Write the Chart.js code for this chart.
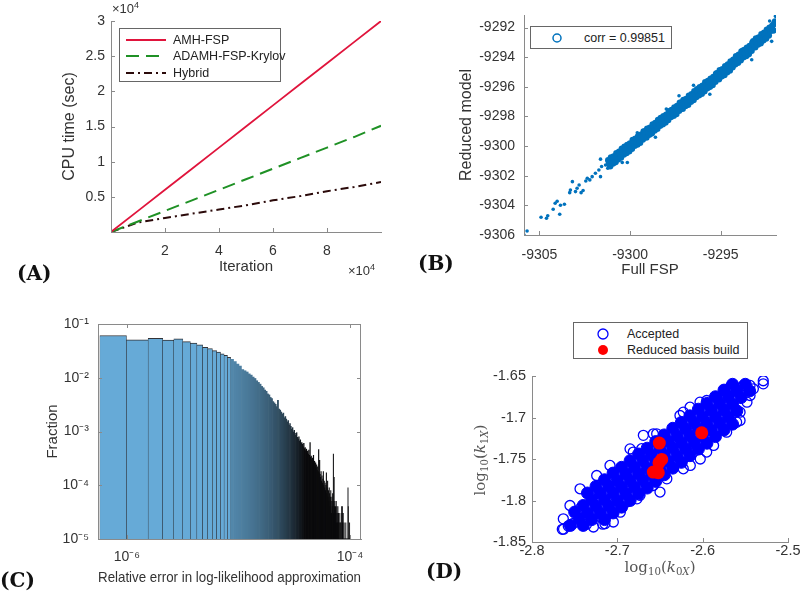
<!DOCTYPE html>
<html>
<head>
<meta charset="utf-8">
<script src="https://cdn.jsdelivr.net/npm/chart.js@4.4.1/dist/chart.umd.min.js"></script>
<style>
  body { margin: 0; background: #fff; }
  #fig { position: relative; width: 800px; height: 591px; overflow: hidden; font-family: "Liberation Sans", Arial, sans-serif; color: #333; }
  canvas { position: absolute; }
  .tag { position: absolute; font-family: "DejaVu Serif", serif; font-weight: bold; font-size: 20px; line-height: 20px; color: #111; z-index: 2; }
  .legend { position: absolute; box-sizing: border-box; border: 1px solid #666; background: #fff; font-size: 12.5px; color: #222; z-index: 2; }
  .legend span { position: absolute; line-height: 16px; white-space: nowrap; }
  .legend svg { position: absolute; left: 0; top: 0; }
  .exp { position: absolute; font-size: 13px; color: #333; z-index: 2; white-space: nowrap; }
  .exp sup { font-size: 9px; position: relative; top: -1px; vertical-align: top; }
  .mathlbl { position: absolute; font-family: "DejaVu Serif", serif; font-size: 15px; color: #555; white-space: nowrap; z-index: 2; }
  .mathlbl sub { font-size: 0.68em; vertical-align: baseline; position: relative; top: 0.3em; }
</style>
</head>
<body>
<div id="fig">
  <canvas id="cpuChart" width="400" height="290" style="left:0;top:0"></canvas>
  <canvas id="corrChart" width="400" height="290" style="left:400px;top:0"></canvas>
  <canvas id="errChart" width="400" height="301" style="left:0;top:290px"></canvas>
  <canvas id="paramChart" width="400" height="301" style="left:400px;top:290px"></canvas>

  <div class="exp" style="left:112px;top:1px">×10<sup>4</sup></div>
  <div class="exp" style="left:348px;top:263px">×10<sup>4</sup></div>

  <div class="legend" style="left:119px;top:28px;width:162px;height:54px">
    <svg width="162" height="54">
      <line x1="6" y1="11" x2="46" y2="11" stroke="#e0143c" stroke-width="2"/>
      <line x1="6" y1="27" x2="46" y2="27" stroke="#1f9125" stroke-width="2" stroke-dasharray="13 7"/>
      <line x1="6" y1="44" x2="46" y2="44" stroke="#2b0a0a" stroke-width="2" stroke-dasharray="8 4 2 4"/>
    </svg>
    <span style="left:53px;top:3px">AMH-FSP</span>
    <span style="left:53px;top:19px">ADAMH-FSP-Krylov</span>
    <span style="left:53px;top:36px">Hybrid</span>
  </div>

  <div class="legend" style="left:530px;top:26px;width:142px;height:23px">
    <svg width="142" height="23"><circle cx="26" cy="11" r="4" fill="none" stroke="#0072BD" stroke-width="1.5"/></svg>
    <span style="left:53px;top:3px">corr = 0.99851</span>
  </div>

  <div class="legend" style="left:573px;top:322px;width:175px;height:37px">
    <svg width="175" height="37">
      <circle cx="29" cy="11" r="5" fill="none" stroke="#0000ff" stroke-width="1.3"/>
      <circle cx="29" cy="27" r="5" fill="#ff0000"/>
    </svg>
    <span style="left:53px;top:3px">Accepted</span>
    <span style="left:53px;top:19px">Reduced basis build</span>
  </div>

  <div class="mathlbl" style="left:660px;top:567px;transform:translate(-50%,-50%)">log<sub>10</sub>(<i>k</i><sub>0<i>X</i></sub>)</div>
  <div class="mathlbl" style="left:480px;top:460px;transform:translate(-50%,-50%) rotate(-90deg)">log<sub>10</sub>(<i>k</i><sub>1<i>X</i></sub>)</div>

  <div class="tag" style="left:17px;top:263px">(A)</div>
  <div class="tag" style="left:418px;top:253px">(B)</div>
  <div class="tag" style="left:0px;top:570px">(C)</div>
  <div class="tag" style="left:426px;top:561px">(D)</div>
</div>

<script>
// (A) CPU time against iteration
const iterations = [0, 10000, 20000, 30000, 40000, 50000, 60000, 70000, 80000, 90000, 100000];
const cpuAmhFsp = [0, 3000, 6000, 9000, 12000, 15000, 18000, 21000, 24000, 27000, 30000];
const cpuAdamhKrylov = [0, 1500, 3000, 4500, 6000, 7500, 9000, 10500, 12000, 13500, 15100];
const cpuHybrid = [0, 1350, 2000, 2600, 3200, 3800, 4500, 5100, 5800, 6400, 7100];
const iterTicks = [20000, 40000, 60000, 80000];
const cpuTicks = [5000, 10000, 15000, 20000, 25000, 30000];

// (B) log-likelihood, full FSP vs reduced model
const fspBand = [
  -9301.2,-9301.15,-9301.1,-9301.05,-9301,-9300.95,-9300.9,-9300.85,-9300.8,-9300.75,-9300.7,-9300.65,-9300.6,-9300.55,-9300.5,-9300.45,-9300.4,-9300.35,-9300.3,-9300.25,
  -9300.2,-9300.15,-9300.1,-9300.05,-9300,-9299.95,-9299.9,-9299.85,-9299.8,-9299.75,-9299.7,-9299.65,-9299.6,-9299.55,-9299.5,-9299.45,-9299.4,-9299.35,-9299.3,-9299.25,
  -9299.2,-9299.15,-9299.1,-9299.05,-9299,-9298.95,-9298.9,-9298.85,-9298.8,-9298.75,-9298.7,-9298.65,-9298.6,-9298.55,-9298.5,-9298.45,-9298.4,-9298.35,-9298.3,-9298.25,
  -9298.2,-9298.15,-9298.1,-9298.05,-9298,-9297.95,-9297.9,-9297.85,-9297.8,-9297.75,-9297.7,-9297.65,-9297.6,-9297.55,-9297.5,-9297.45,-9297.4,-9297.35,-9297.3,-9297.25,
  -9297.2,-9297.15,-9297.1,-9297.05,-9297,-9296.95,-9296.9,-9296.85,-9296.8,-9296.75,-9296.7,-9296.65,-9296.6,-9296.55,-9296.5,-9296.45,-9296.4,-9296.35,-9296.3,-9296.25,
  -9296.2,-9296.15,-9296.1,-9296.05,-9296,-9295.95,-9295.9,-9295.85,-9295.8,-9295.75,-9295.7,-9295.65,-9295.6,-9295.55,-9295.5,-9295.45,-9295.4,-9295.35,-9295.3,-9295.25,
  -9295.2,-9295.15,-9295.1,-9295.05,-9295,-9294.95,-9294.9,-9294.85,-9294.8,-9294.75,-9294.7,-9294.65,-9294.6,-9294.55,-9294.5,-9294.45,-9294.4,-9294.35,-9294.3,-9294.25,
  -9294.2,-9294.15,-9294.1,-9294.05,-9294,-9293.95,-9293.9,-9293.85,-9293.8,-9293.75,-9293.7,-9293.65,-9293.6,-9293.55,-9293.5,-9293.45,-9293.4,-9293.35,-9293.3,-9293.25,
  -9293.2,-9293.15,-9293.1,-9293.05,-9293,-9292.95,-9292.9,-9292.85,-9292.8,-9292.75,-9292.7,-9292.65,-9292.6,-9292.55,-9292.5,-9292.45,-9292.4,-9292.35,-9292.3,-9292.25,
  -9292.2,-9292.15,-9292.1,-9292.05,-9292
];
const reducedBand = [
  -9300.96,-9301.13,-9301.36,-9300.77,-9301.04,-9301.17,-9300.7,-9300.8,-9301.08,-9300.49,-9300.72,-9300.89,-9300.38,-9300.52,-9300.77,-9300.18,-9300.45,-9300.56,-9300.05,-9300.25,
  -9300.46,-9299.92,-9300.12,-9300.35,-9299.82,-9300.01,-9300.18,-9299.59,-9299.79,-9299.98,-9299.5,-9299.74,-9299.89,-9299.34,-9299.51,-9299.77,-9299.23,-9299.39,-9299.55,-9299.01,
  -9299.02,-9299.19,-9299.42,-9298.83,-9299.1,-9299.23,-9298.76,-9298.86,-9299.14,-9298.55,-9298.78,-9298.95,-9298.44,-9298.58,-9298.83,-9298.24,-9298.51,-9298.62,-9298.11,-9298.31,
  -9298.52,-9297.98,-9298.18,-9298.41,-9297.88,-9298.07,-9298.24,-9297.65,-9297.85,-9298.04,-9297.56,-9297.8,-9297.95,-9297.4,-9297.57,-9297.83,-9297.29,-9297.45,-9297.61,-9297.07,
  -9297.08,-9297.25,-9297.48,-9296.89,-9297.16,-9297.29,-9296.82,-9296.92,-9297.2,-9296.61,-9296.84,-9297.01,-9296.5,-9296.64,-9296.89,-9296.3,-9296.57,-9296.68,-9296.17,-9296.37,
  -9296.57,-9296.03,-9296.23,-9296.46,-9295.93,-9296.12,-9296.29,-9295.7,-9295.9,-9296.09,-9295.61,-9295.85,-9296,-9295.45,-9295.62,-9295.88,-9295.34,-9295.5,-9295.66,-9295.12,
  -9295.08,-9295.25,-9295.48,-9294.89,-9295.16,-9295.29,-9294.82,-9294.92,-9295.2,-9294.61,-9294.84,-9295.01,-9294.5,-9294.64,-9294.89,-9294.3,-9294.57,-9294.68,-9294.17,-9294.37,
  -9294.48,-9293.94,-9294.14,-9294.37,-9293.84,-9294.03,-9294.2,-9293.61,-9293.81,-9294,-9293.52,-9293.76,-9293.91,-9293.36,-9293.53,-9293.79,-9293.25,-9293.41,-9293.57,-9293.03,
  -9292.93,-9293.1,-9293.33,-9292.74,-9293.01,-9293.14,-9292.67,-9292.77,-9293.05,-9292.46,-9292.69,-9292.86,-9292.35,-9292.49,-9292.74,-9292.15,-9292.42,-9292.53,-9292.02,-9292.22,
  -9292.05,-9291.88,-9292.2,-9291.75,-9291.6
];
const fspSparse = [-9305.85,-9305.68,-9304.91,-9304.61,-9304.54,-9304.24,-9304.13,-9304.02,-9303.88,-9303.84,-9303.62,-9303.33,-9303.29,-9303.18,-9303.01,-9302.92,-9302.81,-9302.7,-9302.59,-9302.44,-9302.36,-9302.22,-9302.09,-9301.91,-9301.72,-9301.63,-9301.57,-9301.35,-9301.23,-9300.15,-9300.43,-9301.63,-9291.98,-9292.3,-9292.19,-9292.6,-9293.29,-9293.84,-9294.4,-9296.5,-9295.6,-9298.6,-9297.3,-9299.6,-9298];
const reducedSparse = [-9306,-9305.73,-9304.8,-9304.87,-9304.7,-9304.26,-9303.86,-9303.72,-9304.6,-9303.99,-9303.92,-9303.14,-9302.96,-9302.4,-9303.07,-9302.84,-9302.62,-9303.14,-9303,-9302.35,-9302.17,-9302.28,-9302.06,-9301.83,-9301.61,-9300.88,-9301.38,-9301.27,-9301.49,-9301.11,-9301.11,-9302.06,-9291.24,-9291.55,-9292.93,-9292.36,-9294.17,-9293.49,-9294.39,-9295.9,-9296.5,-9299.4,-9296.6,-9299.1,-9297.5];
const fspTicks = [-9305, -9300, -9295];
const reducedTicks = [-9306, -9304, -9302, -9300, -9298, -9296, -9294, -9292];

// (C) histogram of relative error, bins of equal width
const errBinWidth = 5.32e-7;
const errFraction = [
  0.061,0.051,0.054,0.050,0.053,0.047,0.044,0.041,0.037,0.035,0.032,0.030,0.028,0.026,0.024,0.022,0.020,0.018,0.0165,0.0142,
  0.0135,0.0128,0.0118,0.0112,0.0103,0.0097,0.0088,0.0082,0.0076,0.0069,0.0065,0.0059,0.0056,0.0050,0.0048,0.0043,0.0041,0.0036,0.0034,0.0032,
  0.0029,0.0038,0.0026,0.0025,0.0023,0.0021,0.0022,0.0018,0.0019,0.0017,0.0015,0.0016,0.0013,0.0014,0.00125,0.0011,0.00118,0.00098,0.00105,0.00092,
  0.00085,0.00095,0.00078,0.00072,0.0008,0.00066,0.0007,0.0006,0.00062,0.00058,0.00052,0.0006,0.00048,0.0005,0.00044,0.00047,0.0004,0.00043,0.00038,0.00045,
  0.00036,0.00062,0.00033,0.00035,0.0003,0.00032,0.00027,0.00036,0.00025,0.00028,0.00023,0.00026,0.00021,0.00024,0.00019,0.00022,0.00018,0.00046,0.00017,0.00029,
  0.00016,0.00014,0.00018,0.00012,0.00015,0.00011,0.00013,0.00018,0.0001,0.00012,0.00009,0.00011,0.00008,0.0001,0.00017,0.00007,0.00009,0.00012,0.00006,0.00008,
  0.00005,0.00009,0.00007,0.00004,0.00006,0.00008,0.00005,0.00003,0.00006,0.00004,0.00007,0.00005,0.00038,0.00003,0.00014,0.00004,0.00005,0.00002,0.00004,0.00003,
  0.00005,0.00002,0.00004,0.00003,0.00002,0.00004,0.00002,0.00003,0,0.00002,0,0.00003,0.00002,0,0.00002,0,0,0.00004,0.00003,0.00004,
  0.00002,0,0.00003,0,0,0.00002,0,0,0,0,0,0.00002,0,0,0,0,0,0,0,0.00009,
  0.00004,0,0,0,0,0.00002,0,0,0,0
];
const errTicks = [1e-6, 1e-4];
const errTickLabels = ['10⁻⁶', '10⁻⁴'];
const fracTicks = [1e-5, 1e-4, 1e-3, 1e-2, 1e-1];
const fracTickLabels = ['10⁻⁵', '10⁻⁴', '10⁻³', '10⁻²', '10⁻¹'];

// (D) accepted samples and reduced basis build points
const coreK0 = [
  -2.755,-2.745,-2.735,-2.725,-2.715,-2.705,-2.695,-2.685,-2.675,-2.665,-2.655,-2.645,-2.635,-2.625,-2.615,-2.605,-2.595,-2.585,-2.575,-2.565,-2.555,-2.545,
  -2.75,-2.74,-2.73,-2.72,-2.71,-2.70,-2.69,-2.68,-2.67,-2.66,-2.65,-2.64,-2.63,-2.62,-2.61,-2.60,-2.59,-2.58,-2.57,-2.56,-2.55,
  -2.74,-2.73,-2.72,-2.71,-2.70,-2.69,-2.68,-2.67,-2.66,-2.65,-2.64,-2.63,-2.62,-2.61,-2.60,-2.59,-2.58,-2.57,-2.56,
  -2.735,-2.725,-2.715,-2.705,-2.695,-2.685,-2.675,-2.665,-2.655,-2.645,-2.635,-2.625,-2.615,-2.605,-2.595,-2.585,-2.575,-2.565,
  -2.715,-2.705,-2.695,-2.685,-2.675,-2.665,-2.655,-2.645,-2.635,-2.625,-2.615,-2.605,-2.595,-2.585,-2.575,-2.565
];
const coreK1 = [
  -1.830,-1.822,-1.815,-1.807,-1.799,-1.791,-1.784,-1.776,-1.768,-1.761,-1.753,-1.745,-1.737,-1.730,-1.722,-1.714,-1.707,-1.699,-1.691,-1.684,-1.676,-1.668,
  -1.814,-1.806,-1.799,-1.791,-1.783,-1.776,-1.768,-1.760,-1.752,-1.745,-1.737,-1.729,-1.722,-1.714,-1.706,-1.699,-1.691,-1.683,-1.675,-1.668,-1.660,
  -1.830,-1.823,-1.815,-1.807,-1.800,-1.792,-1.784,-1.776,-1.769,-1.761,-1.753,-1.746,-1.738,-1.730,-1.723,-1.715,-1.707,-1.699,-1.692,
  -1.791,-1.783,-1.775,-1.767,-1.760,-1.752,-1.744,-1.737,-1.729,-1.721,-1.713,-1.706,-1.698,-1.690,-1.683,-1.675,-1.667,-1.660,
  -1.823,-1.815,-1.808,-1.800,-1.792,-1.785,-1.777,-1.769,-1.761,-1.754,-1.746,-1.738,-1.731,-1.723,-1.715,-1.708
];
const edgeK0 = [-2.7645,-2.7575,-2.7516,-2.763,-2.736,-2.717,-2.6965,-2.677,-2.658,-2.65,-2.6227,-2.5953,-2.5719,-2.5602,-2.5562,-2.5445,-2.5406,-2.529,-2.5523,-2.5679,-2.5953,-2.6266,-2.6539,-2.6578,-2.6851,-2.7086,-2.7242,-2.7437,-2.7555,-2.7633,-2.529,-2.5445,-2.564,-2.5816,-2.6714,-2.7145,-2.728,-2.7047,-2.6145,-2.6028,-2.5872,-2.6227,-2.6148,-2.6031,-2.5836,-2.6695,-2.6813,-2.7203,-2.5481,-2.5562,-2.642,-2.689,-2.6734,-2.7438];
const edgeK1 = [-1.8347,-1.8307,-1.8275,-1.8345,-1.8285,-1.8285,-1.8141,-1.798,-1.7819,-1.7898,-1.7618,-1.7416,-1.7177,-1.7056,-1.6936,-1.6735,-1.6655,-1.6594,-1.6614,-1.6635,-1.6795,-1.6976,-1.7197,-1.7197,-1.7378,-1.7578,-1.7699,-1.7859,-1.806,-1.8221,-1.6557,-1.6614,-1.6635,-1.7136,-1.7376,-1.8279,-1.8319,-1.8259,-1.7578,-1.750,-1.7337,-1.6936,-1.6876,-1.6815,-1.6755,-1.7215,-1.7416,-1.7818,-1.6815,-1.7035,-1.7739,-1.8018,-1.7938,-1.8098];
const basisK0 = [-2.6011, -2.6508, -2.648, -2.6512, -2.6578, -2.652];
const basisK1 = [-1.7185, -1.7308, -1.7505, -1.7546, -1.7657, -1.7665];
const k0Ticks = [-2.8, -2.7, -2.6, -2.5];
const k1Ticks = [-1.85, -1.8, -1.75, -1.7, -1.65];

const axisGray = '#8a8a8a';
const textGray = '#333';

Chart.defaults.font.family = "'Liberation Sans', Arial, sans-serif";
Chart.defaults.color = textGray;
Chart.defaults.animation = false;

const zip = (xs, ys) => xs.map((x, i) => ({ x: x, y: ys[i] }));

// fix the axis box size so the plot area lands where the figure has it
const fixSize = (prop, size) => (scale) => {
    scale[prop] = size;
    scale.paddingLeft = scale.paddingRight = scale.paddingTop = scale.paddingBottom = 0;
};
const setTicks = (values) => (scale) => { scale.ticks = values.map(v => ({ value: v })); };

// MATLAB style ticks pointing into the axes
const innerTicks = {
    id: 'innerTicks',
    afterDatasetsDraw(chart, args, opts) {
        const { ctx, chartArea: a, scales } = chart;
        const len = 4;
        ctx.save();
        ctx.strokeStyle = axisGray;
        ctx.lineWidth = 1;
        ctx.beginPath();
        scales.x.ticks.forEach(t => {
            const p = Math.round(scales.x.getPixelForValue(t.value)) + 0.5;
            ctx.moveTo(p, a.bottom); ctx.lineTo(p, a.bottom - len);
            if (opts.box) { ctx.moveTo(p, a.top); ctx.lineTo(p, a.top + len); }
        });
        scales.y.ticks.forEach(t => {
            const p = Math.round(scales.y.getPixelForValue(t.value)) + 0.5;
            ctx.moveTo(a.left, p); ctx.lineTo(a.left + len, p);
            if (opts.box) { ctx.moveTo(a.right, p); ctx.lineTo(a.right - len, p); }
        });
        if (opts.box) {
            ctx.moveTo(a.left, a.top + 0.5); ctx.lineTo(a.right, a.top + 0.5);
            ctx.moveTo(a.right - 0.5, a.top); ctx.lineTo(a.right - 0.5, a.bottom);
        }
        ctx.stroke();
        ctx.restore();
    }
};

const axisBase = (tickSize, pad) => ({
    grid: { display: false, drawTicks: false },
    border: { display: true, color: axisGray, width: 1, z: 1 },
    ticks: { padding: pad, font: { size: tickSize }, color: textGray }
});

// (A)
new Chart(document.getElementById('cpuChart'), {
    type: 'line',
    data: {
        datasets: [
            { label: 'AMH-FSP', data: zip(iterations, cpuAmhFsp), borderColor: '#e0143c', borderWidth: 1.8, pointRadius: 0 },
            { label: 'ADAMH-FSP-Krylov', data: zip(iterations, cpuAdamhKrylov), borderColor: '#1f9125', borderWidth: 2, borderDash: [13, 7], pointRadius: 0 },
            { label: 'Hybrid', data: zip(iterations, cpuHybrid), borderColor: '#2b0a0a', borderWidth: 2, borderDash: [8, 4, 2, 4], pointRadius: 0 }
        ]
    },
    options: {
        responsive: false,
        layout: { padding: { left: 0, top: 21, right: 19, bottom: 0 } },
        scales: {
            x: Object.assign(axisBase(14, 11), {
                type: 'linear', min: 0, max: 100000,
                afterBuildTicks: setTicks(iterTicks), afterFit: fixSize('height', 58),
                title: { display: true, text: 'Iteration', font: { size: 15 }, color: textGray, padding: { top: 0, bottom: 14 } }
            }),
            y: Object.assign(axisBase(14, 6), {
                type: 'linear', min: 0, max: 30000,
                afterBuildTicks: setTicks(cpuTicks), afterFit: fixSize('width', 111),
                title: { display: true, text: 'CPU time (sec)', font: { size: 16 }, color: textGray, padding: { top: 60, bottom: 0 } }
            })
        },
        plugins: { legend: { display: false }, tooltip: { enabled: false }, innerTicks: {} }
    },
    plugins: [innerTicks]
});
Chart.getChart('cpuChart').options.scales.x.ticks.callback = v => String(v / 1e4);
Chart.getChart('cpuChart').options.scales.y.ticks.callback = v => String(v / 1e4);
Chart.getChart('cpuChart').update();

// (B)
new Chart(document.getElementById('corrChart'), {
    type: 'scatter',
    data: {
        datasets: [
            { label: 'corr = 0.99851', data: zip(fspBand, reducedBand), backgroundColor: '#0072BD', borderWidth: 0, pointRadius: 3.3 },
            { label: 'corr = 0.99851', data: zip(fspSparse, reducedSparse), backgroundColor: '#0072BD', borderWidth: 0, pointRadius: 1.8 }
        ]
    },
    options: {
        responsive: false,
        layout: { padding: { left: 0, top: 15, right: 24, bottom: 0 } },
        scales: {
            x: Object.assign(axisBase(14, 12), {
                type: 'linear', min: -9305.85, max: -9291.95,
                afterBuildTicks: setTicks(fspTicks), afterFit: fixSize('height', 55),
                title: { display: true, text: 'Full FSP', font: { size: 15 }, color: textGray, padding: { top: 0, bottom: 11 } }
            }),
            y: Object.assign(axisBase(14, 9), {
                type: 'linear', min: -9306, max: -9291.15,
                afterBuildTicks: setTicks(reducedTicks), afterFit: fixSize('width', 124),
                title: { display: true, text: 'Reduced model', font: { size: 16 }, color: textGray, padding: { top: 57, bottom: 0 } }
            })
        },
        plugins: { legend: { display: false }, tooltip: { enabled: false }, innerTicks: {} }
    },
    plugins: [innerTicks]
});
Chart.getChart('corrChart').options.scales.x.ticks.callback = v => String(v);
Chart.getChart('corrChart').options.scales.y.ticks.callback = v => String(v);
Chart.getChart('corrChart').update();

// (C) bins [k*w, (k+1)*w] drawn at their log-centre, widths from neighbours
const errBins = errFraction.map((f, i) => ({ x: Math.sqrt((i + 1) * (i + 2)) * errBinWidth, y: f }));
// pixel width of a bin: narrow bins are mostly black edge lines in the figure
const binPx = (c) => {
    const s = c.chart.scales.x;
    if (!s) return 10;
    const k = c.dataIndex + 1;
    return s.getPixelForValue((k + 1) * errBinWidth) - s.getPixelForValue(k * errBinWidth);
};
const binFill = (c) => {
    const w = binPx(c);
    const t = w >= 3 ? 0 : Math.min(1, 0.65 / w);
    const mix = (a, b) => Math.round(a + (b - a) * t);
    return 'rgb(' + mix(102, 10) + ',' + mix(170, 10) + ',' + mix(215, 12) + ')';
};
new Chart(document.getElementById('errChart'), {
    type: 'bar',
    data: {
        datasets: [{
            label: 'Fraction', data: errBins, clip: 0,
            backgroundColor: binFill, borderColor: 'rgba(15,15,20,0.85)',
            borderWidth: (c) => binPx(c) >= 3 ? { top: 1, left: 0.5, right: 0.5, bottom: 0 } : 0,
            borderSkipped: 'start',
            barThickness: 'flex', barPercentage: 1, categoryPercentage: 1
        }]
    },
    options: {
        responsive: false,
        layout: { padding: { left: 0, top: 34, right: 39, bottom: 0 } },
        scales: {
            x: Object.assign(axisBase(14, 10), {
                type: 'logarithmic', min: 5.5e-7, max: 1.256e-4, offset: false,
                afterBuildTicks: setTicks(errTicks), afterFit: fixSize('height', 52),
                title: { display: true, text: 'Relative error in log-likelihood approximation', font: { size: 15 }, color: textGray, padding: { top: 0, bottom: 4 } }
            }),
            y: Object.assign(axisBase(14, 9), {
                type: 'logarithmic', min: 1e-5, max: 1e-1,
                afterBuildTicks: setTicks(fracTicks), afterFit: fixSize('width', 98),
                title: { display: true, text: 'Fraction', font: { size: 15 }, color: textGray, padding: { top: 44, bottom: 0 } }
            })
        },
        plugins: { legend: { display: false }, tooltip: { enabled: false }, innerTicks: { box: true } }
    },
    plugins: [innerTicks]
});
Chart.getChart('errChart').options.scales.x.ticks.callback = v => errTickLabels[errTicks.indexOf(v)];
Chart.getChart('errChart').options.scales.y.ticks.callback = v => fracTickLabels[fracTicks.indexOf(v)];
Chart.getChart('errChart').update();

// (D)
new Chart(document.getElementById('paramChart'), {
    type: 'scatter',
    data: {
        datasets: [
            { label: 'Reduced basis build', data: zip(basisK0, basisK1), order: 0,
              backgroundColor: '#ff0000', borderWidth: 0, pointRadius: 6.5 },
            { label: 'Accepted', data: zip(edgeK0, edgeK1), order: 1,
              backgroundColor: 'rgba(0,0,0,0)', borderColor: '#0000ff', borderWidth: 1.3, pointRadius: 5 },
            { label: 'Accepted', data: zip(coreK0, coreK1), order: 2,
              backgroundColor: '#0000ff', borderColor: '#0000ff', borderWidth: 1, pointRadius: 6 }
        ]
    },
    options: {
        responsive: false,
        layout: { padding: { left: 0, top: 86, right: 12, bottom: 0 } },
        scales: {
            x: Object.assign(axisBase(14.5, 0), {
                type: 'linear', min: -2.8, max: -2.5,
                afterBuildTicks: setTicks(k0Ticks), afterFit: fixSize('height', 49)
            }),
            y: Object.assign(axisBase(14.5, 6), {
                type: 'linear', min: -1.85, max: -1.65,
                afterBuildTicks: setTicks(k1Ticks), afterFit: fixSize('width', 132)
            })
        },
        plugins: { legend: { display: false }, tooltip: { enabled: false }, innerTicks: {} }
    },
    plugins: [innerTicks]
});
Chart.getChart('paramChart').options.scales.x.ticks.callback = v => String(v);
Chart.getChart('paramChart').options.scales.y.ticks.callback = v => String(v);
Chart.getChart('paramChart').update();
</script>
</body>
</html>
